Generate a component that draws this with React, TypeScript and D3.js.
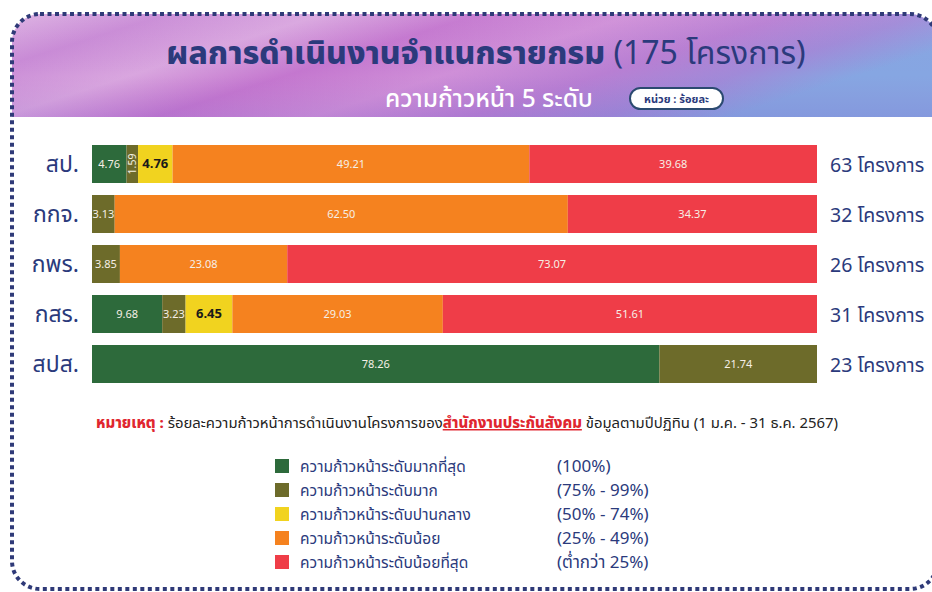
import React from "react";
import * as d3 from "d3";

const categories = ["สป.", "กกจ.", "กพร.", "กสร.", "สปส."];
const projectCounts = [63, 32, 26, 31, 23];
const levelKeys = ["highest", "high", "medium", "low", "lowest"];
const highest = [4.76, 0, 0, 9.68, 78.26];
const high = [1.59, 3.13, 3.85, 3.23, 21.74];
const medium = [4.76, 0, 0, 6.45, 0];
const low = [49.21, 62.5, 23.08, 29.03, 0];
const lowest = [39.68, 34.37, 73.07, 51.61, 0];
const levelNames = [
  "ความก้าวหน้าระดับมากที่สุด",
  "ความก้าวหน้าระดับมาก",
  "ความก้าวหน้าระดับปานกลาง",
  "ความก้าวหน้าระดับน้อย",
  "ความก้าวหน้าระดับน้อยที่สุด",
];
const levelRanges = ["(100%)", "(75% - 99%)", "(50% - 74%)", "(25% - 49%)", "(ต่ำกว่า 25%)"];
const levelColors = ["#2d6a3b", "#6d6b2a", "#f1d31f", "#f5821f", "#ef3d48"];

const W = 932;
const H = 592;
const FONT = "'Noto Sans Thai', 'Noto Sans', 'Open Sans', Lato, sans-serif";
const NAVY = "#2b3a7c";

export default function App() {
  const rows = categories.map((c, i) => ({
    cat: c,
    highest: highest[i],
    high: high[i],
    medium: medium[i],
    low: low[i],
    lowest: lowest[i],
  }));
  const series = d3.stack<any>().keys(levelKeys)(rows);
  const x = d3.scaleLinear().domain([0, 100]).range([92, 817]);
  const y = d3
    .scaleBand<string>()
    .domain(categories)
    .range([139, 389])
    .paddingInner(0.24)
    .paddingOuter(0.12);
  const bw = y.bandwidth();

  const legendY = d3.scalePoint<string>().domain(levelKeys).range([466, 562]);

  return (
    <div style={{ position: "absolute", left: 0, top: 0 }}>
      <svg width={W} height={H} style={{ display: "block", background: "#fff", fontFamily: FONT }}>
        <defs>
          <linearGradient id="hdr" x1="0" y1="0" x2="1" y2="0.35">
            <stop offset="0" stopColor="#dcb0e2" />
            <stop offset="0.15" stopColor="#c98bd6" />
            <stop offset="0.3" stopColor="#d9a6df" />
            <stop offset="0.45" stopColor="#c477cf" />
            <stop offset="0.6" stopColor="#cf8fd8" />
            <stop offset="0.75" stopColor="#b87fd3" />
            <stop offset="0.88" stopColor="#a08ad8" />
            <stop offset="1" stopColor="#86a6e2" />
          </linearGradient>
          <linearGradient id="hdr2" x1="0" y1="0" x2="0" y2="1">
            <stop offset="0" stopColor="#ffffff" stopOpacity="0.05" />
            <stop offset="0.6" stopColor="#9a5cc0" stopOpacity="0.0" />
            <stop offset="1" stopColor="#7a5cc8" stopOpacity="0.18" />
          </linearGradient>
          <clipPath id="frameClip">
            <rect x={12} y={14} width={926} height={575} rx={28} ry={28} />
          </clipPath>
        </defs>

        {/* header band */}
        <g clipPath="url(#frameClip)">
          <rect x={12} y={14} width={926} height={103} fill="url(#hdr)" />
          <rect x={12} y={14} width={926} height={103} fill="url(#hdr2)" />
        </g>

        {/* dotted frame */}
        <rect
          x={12}
          y={14}
          width={926}
          height={575}
          rx={28}
          ry={28}
          fill="none"
          stroke="#2f3a78"
          strokeWidth={4}
          strokeDasharray="4 3.5"
        />

        {/* titles */}
        <text x={486} y={64} textAnchor="middle" fontSize={32} fill={NAVY}>
          <tspan fontWeight={800}>ผลการดำเนินงานจำแนกรายกรม</tspan>
          <tspan fontWeight={400}> (175 โครงการ)</tspan>
        </text>
        <text x={489} y={107} textAnchor="middle" fontSize={24.5} fill="#ffffff" fontWeight={500}>
          ความก้าวหน้า 5 ระดับ
        </text>
        <rect x={630} y={88} width={93} height={21} rx={10.5} fill="#ffffff" stroke="#2b4a70" strokeWidth={2} />
        <text x={676.5} y={103} textAnchor="middle" fontSize={11} fontWeight={700} fill={NAVY}>
          หน่วย : ร้อยละ
        </text>

        {/* bars */}
        {series.map((s, si) => (
          <g key={s.key} fill={levelColors[si]}>
            {s.map((d, i) =>
              d[1] - d[0] > 0 ? (
                <rect
                  key={i}
                  x={x(d[0])}
                  y={y(categories[i])}
                  width={x(d[1]) - x(d[0])}
                  height={bw}
                />
              ) : null
            )}
          </g>
        ))}

        {/* segment labels */}
        {series.map((s, si) =>
          s.map((d, i) => {
            const v = d[1] - d[0];
            if (v <= 0) return null;
            const cx = (x(d[0]) + x(d[1])) / 2;
            const cy = (y(categories[i]) as number) + bw / 2;
            const label = v.toFixed(2);
            const isYellow = si === 2;
            const narrow = x(d[1]) - x(d[0]) < 18;
            if (narrow) {
              return (
                <text
                  key={s.key + i}
                  transform={`translate(${cx + 4},${cy}) rotate(-90)`}
                  textAnchor="middle"
                  fontSize={10.5}
                  fill="#f3f1e4"
                >
                  {label}
                </text>
              );
            }
            return (
              <text
                key={s.key + i}
                x={cx}
                y={cy + 4}
                textAnchor="middle"
                fontSize={isYellow ? 13 : 11}
                fontWeight={isYellow ? 700 : 400}
                fill={isYellow ? "#1a1a1a" : "#f6efe6"}
              >
                {label}
              </text>
            );
          })
        )}

        {/* category labels */}
        {categories.map((c) => (
          <text
            key={c}
            x={79}
            y={(y(c) as number) + bw / 2 + 8}
            textAnchor="end"
            fontSize={23}
            fill={NAVY}
          >
            {c}
          </text>
        ))}

        {/* project counts */}
        {categories.map((c, i) => (
          <text key={c} x={830} y={(y(c) as number) + bw / 2 + 8} fontSize={19.5} fill={NAVY}>
            {projectCounts[i]} โครงการ
          </text>
        ))}

        {/* note */}
        <text x={96} y={428} fontSize={14.9} fill="#222">
          <tspan fill="#e0262f" fontWeight={800}>หมายเหตุ :</tspan>
          <tspan> ร้อยละความก้าวหน้าการดำเนินงานโครงการของ</tspan>
          <tspan fill="#e0262f" fontWeight={800} textDecoration="underline">สำนักงานประกันสังคม</tspan>
          <tspan> ข้อมูลตามปีปฏิทิน (1 ม.ค. - 31 ธ.ค. 2567)</tspan>
        </text>

        {/* legend */}
        {levelKeys.map((k, i) => {
          const ly = legendY(k) as number;
          return (
            <g key={k}>
              <rect x={275} y={ly - 7} width={14} height={14} fill={levelColors[i]} />
              <text x={300} y={ly + 6} fontSize={15.5} fill={NAVY}>
                {levelNames[i]}
              </text>
              <text x={557} y={ly + 6} fontSize={17} fill={NAVY}>
                {levelRanges[i]}
              </text>
            </g>
          );
        })}
      </svg>
    </div>
  );
}
